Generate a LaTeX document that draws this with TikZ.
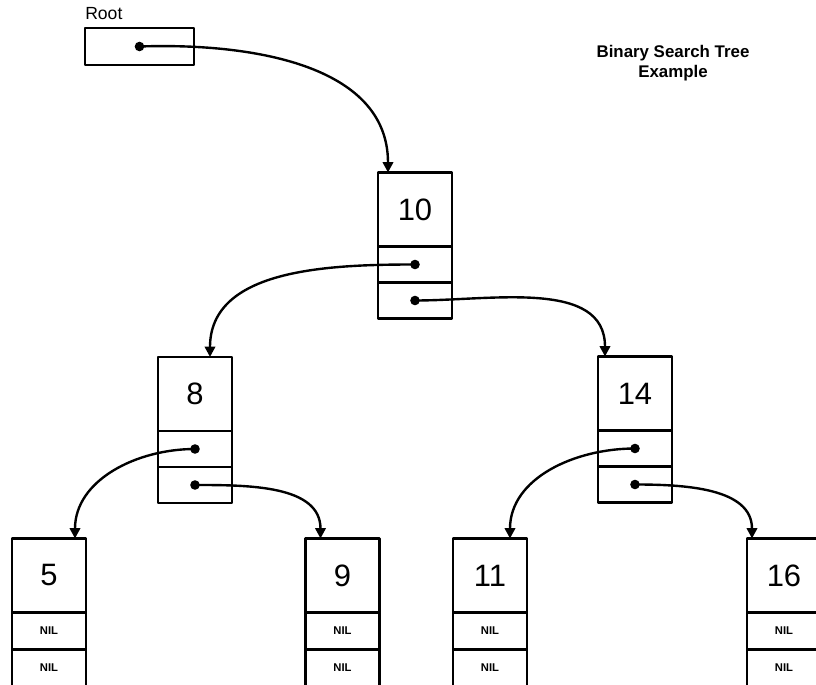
\documentclass[tikz,border=0pt]{standalone}
\usepackage{fontspec}
\setsansfont{Liberation Sans}
\usetikzlibrary{arrows.meta,positioning}
\tikzset{
    every picture/.style={line cap=round,line join=round},
    valcell/.style={draw,line width=1.7pt,minimum width=18.5mm,minimum height=18.5mm,
      inner sep=0pt,outer sep=0pt,font=\sffamily\fontsize{22}{24}\selectfont},
    ptrcell/.style={draw,line width=1.7pt,minimum width=18.5mm,minimum height=9mm,
      inner sep=0pt,outer sep=0pt},
    nilcell/.style={ptrcell,minimum height=9.25mm,font=\sffamily\bfseries\fontsize{8}{9}\selectfont},
    rootbox/.style={draw,line width=1.7pt,minimum width=27.25mm,minimum height=9.25mm,
      inner sep=0pt,outer sep=0pt},
    ptrdot/.style={circle,fill,inner sep=0pt,minimum size=2.4mm},
    linkarrow/.style={-{Triangle[length=2.6mm,width=2.6mm]},line width=1.7pt}
}
\begin{document}
\begin{tikzpicture}[x=0.25mm,y=-0.25mm]
  \clip (0,0) rectangle (816,685);
  % root pointer and title
  \node[rootbox] (root) at (139.5,46.5) {};
  \node[font=\sffamily\fontsize{12.5}{14}\selectfont,anchor=south west,inner sep=0pt] (rootlbl)
    at ([yshift=2mm]root.north west) {Root};
  \node[ptrdot] (rootd) at (root.center) {};
  \node[font=\sffamily\bfseries\fontsize{12}{14.5}\selectfont,align=center] (title)
    at (673,63) {Binary Search Tree\\Example};
  % inner nodes
  \node[valcell] (n10) at (415,209.5) {10};
  \node[ptrcell,below=0pt of n10] (n10l) {};
  \node[ptrcell,below=0pt of n10l] (n10r) {};
  \node[valcell] (n8) at (195,394) {8};
  \node[ptrcell,below=0pt of n8] (n8l) {};
  \node[ptrcell,below=0pt of n8l] (n8r) {};
  \node[valcell] (n14) at (635,393.5) {14};
  \node[ptrcell,below=0pt of n14] (n14l) {};
  \node[ptrcell,below=0pt of n14l] (n14r) {};
  \foreach \nm in {n10l,n10r,n8l,n8r,n14l,n14r}
    \node[ptrdot] (\nm-d) at (\nm.center) {};
  % leaves
  \foreach \nm/\xx/\val in {n5/49/5,n9/342.5/9,n11/490/11,n16/784/16}{
    \node[valcell] (\nm) at (\xx,575.5) {\val};
    \node[nilcell,below=0pt of \nm] (\nm-a) {NIL};
    \node[nilcell,below=0pt of \nm-a] (\nm-b) {NIL};
  }
  % links
  \draw[linkarrow] (rootd.center) to[out=2,in=90] ([xshift=-6.75mm]n10.north);
  \draw[linkarrow] (n10l-d.center) to[out=180,in=90] ([xshift=3.75mm]n8.north);
  \draw[linkarrow] (n10r-d.center) to[out=0,in=90] ([xshift=-7.5mm]n14.north);
  \draw[linkarrow] (n8l-d.center) to[out=180,in=90] ([xshift=6.5mm]n5.north);
  \draw[linkarrow] (n8r-d.center) to[out=0,in=90] ([xshift=-5.5mm]n9.north);
  \draw[linkarrow] (n14l-d.center) to[out=180,in=90] ([xshift=5mm]n11.north);
  \draw[linkarrow] (n14r-d.center) to[out=0,in=90] ([xshift=-8mm]n16.north);
\end{tikzpicture}
\end{document}
